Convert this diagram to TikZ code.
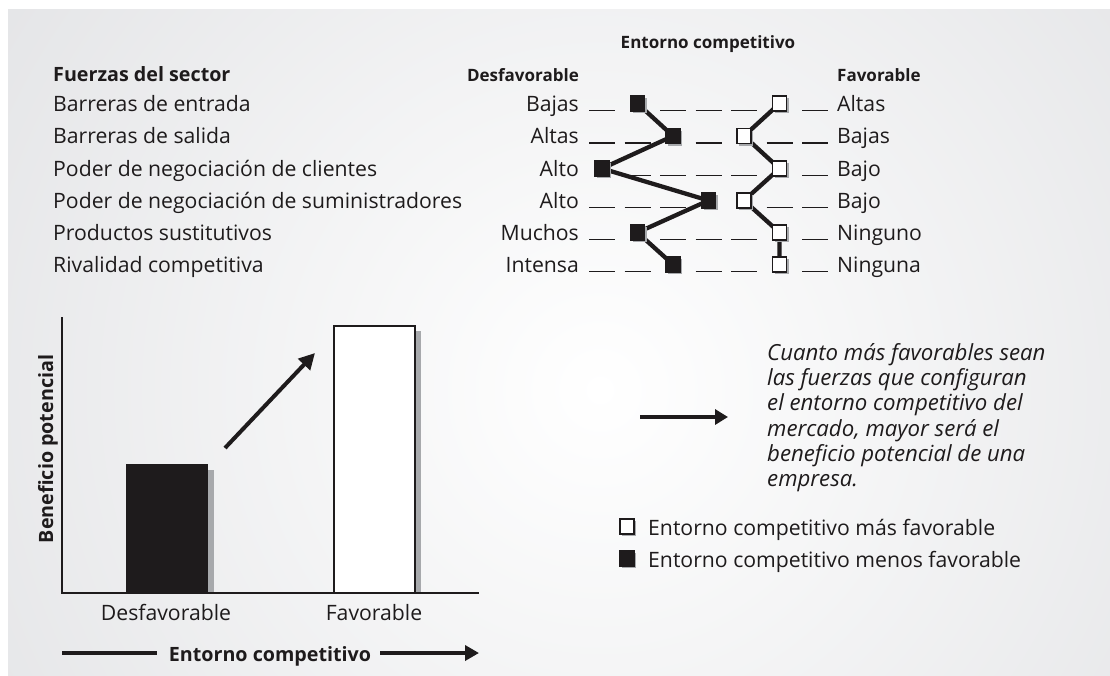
\documentclass[tikz,border=0pt]{standalone}
\usepackage{fontspec}
\setmainfont{Open Sans}
\usetikzlibrary{arrows.meta,shadows}
\definecolor{bggray}{RGB}{218,219,222}
\definecolor{shgray}{RGB}{167,169,172}
\definecolor{ink}{RGB}{30,27,28}
\pgfdeclarelayer{bglayer}
\pgfdeclarelayer{linelayer}
\pgfsetlayers{bglayer,linelayer,main}
\tikzset{
 txt/.style={font=\fontsize{21.2}{25}\selectfont, text=ink, inner sep=0pt},
 btxt/.style={font=\fontsize{19.7}{23}\selectfont\bfseries, text=ink, inner sep=0pt},
 htxt/.style={font=\fontsize{17}{21}\selectfont\bfseries, text=ink, inner sep=0pt},
 itxt/.style={font=\fontsize{22.2}{25}\selectfont\itshape, text=ink, inner sep=0pt, anchor=base west},
 sq/.style={draw=ink, line width=1.2pt, minimum width=14pt, minimum height=15pt, inner sep=0pt,
   drop shadow={shadow xshift=2pt, shadow yshift=-2pt, fill=shgray, opacity=1}},
 sqb/.style={sq, fill=ink},
 sqw/.style={sq, fill=white},
 dashln/.style={draw=ink, line width=1.4pt},
 conn/.style={draw=ink, line width=4.3pt, line join=round},
 axis/.style={draw=ink, line width=1.6pt},
 arr/.style={draw=ink, line width=4pt, -{Triangle[length=16pt,width=16pt]}},
 thickarr/.style={draw=ink, line width=4.3pt},
}
\begin{document}
\begin{tikzpicture}[x=1pt,y=-1pt]
\useasboundingbox (0,0) rectangle (1110,675);
\begin{pgfonlayer}{bglayer}
 \fill[white] (0,0) rectangle (1110,675);
 \begin{scope}
  \clip (8,9) rectangle (1110,675);
  \shade[inner color=white, outer color=bggray] (600,390) circle [radius=1000pt];
 \end{scope}
\end{pgfonlayer}

% headers
\node[htxt, anchor=base] (hdr) at (708,48.5) {Entorno competitivo};
\node[btxt, anchor=base west] (fs) at (53,81) {Fuerzas del sector};
\node[htxt, anchor=base east] (hdes) at (579,81) {Desfavorable};
\node[htxt, anchor=base west] (hfav) at (837,81) {Favorable};

% rows
\foreach \r/\yb/\b/\w/\L/\R/\F in {
 1/111/2/6/Bajas/Altas/Barreras de entrada,
 2/143.5/3/5/Altas/Bajas/Barreras de salida,
 3/176/1/6/Alto/Bajo/Poder de negociación de clientes,
 4/208/4/5/Alto/Bajo/Poder de negociación de suministradores,
 5/240/2/6/Muchos/Ninguno/Productos sustitutivos,
 6/272/3/6/Intensa/Ninguna/Rivalidad competitiva}{
 \node[txt, anchor=base west] (f\r) at (53,\yb) {\F};
 \node[txt, anchor=base east] (l\r) at (579,\yb) {\L};
 \node[txt, anchor=base west] (rr\r) at (837,\yb) {\R};
 \foreach \k in {1,...,7}{
  \ifnum\k=\b\relax\else\ifnum\k=\w\relax\else
   \draw[dashln] ({589+(\k-1)*35.5},\yb-0.5) -- ++(26,0);
  \fi\fi}
 \node[sqb] (b\r) at ({602+(\b-1)*35.5},\yb-7.5) {};
 \node[sqw] (w\r) at ({602+(\w-1)*35.5},\yb-7.5) {};
}
\begin{pgfonlayer}{linelayer}
 \draw[conn] (b1.center) -- (b2.center) -- (b3.center) -- (b4.center) -- (b5.center) -- (b6.center);
 \draw[conn] (w1.center) -- (w2.center) -- (w3.center) -- (w4.center) -- (w5.center) -- (w6.center);
\end{pgfonlayer}

% chart
\fill[shgray] (132,470) rectangle (214,593);
\fill[ink] (126,464) rectangle (208,593);
\fill[shgray] (340,331) rectangle (421,593);
\filldraw[fill=white, draw=ink, line width=1.3pt] (334,326) rectangle (415,593);
\draw[axis] (62,317) -- (62,593) -- (479,593);
\coordinate (da1) at (225,448);
\coordinate (da2) at (315,353);
\draw[arr] (da1) -- (da2);
\node[txt, anchor=base] (cdes) at (166,620) {Desfavorable};
\node[txt, anchor=base] (cfav) at (374,620) {Favorable};
\node[btxt, rotate=90, anchor=base] (ylab) at (53,449) {Beneficio potencial};
\node[btxt, anchor=base] (ecomp) at (270,661) {Entorno competitivo};
\coordinate (bl1) at (62,653);
\coordinate (bl2) at (157,653);
\coordinate (br1) at (380,653);
\coordinate (br2) at (479,653);
\draw[thickarr] (bl1) -- (bl2);
\draw[thickarr, -{Triangle[length=14pt,width=15pt]}] (br1) -- (br2);

% right side
\coordinate (ra1) at (640,417);
\coordinate (ra2) at (728,417);
\draw[arr, line width=3.5pt, -{Triangle[length=13pt,width=15pt]}] (ra1) -- (ra2);
\node[itxt] (t1) at (767,360) {Cuanto más favorables sean};
\node[itxt] (t2) at (767,385.3) {las fuerzas que configuran};
\node[itxt] (t3) at (767,410.6) {el entorno competitivo del};
\node[itxt] (t4) at (767,436) {mercado, mayor será el};
\node[itxt] (t5) at (767,461.2) {beneficio potencial de una};
\node[itxt] (t6) at (767,486.5) {empresa.};

% legend
\node[sqw] (lg1) at (627,526.5) {};
\node[txt, anchor=base west] (lgt1) at (648,535) {Entorno competitivo más favorable};
\node[sqb] (lg2) at (627,558.5) {};
\node[txt, anchor=base west] (lgt2) at (648,567) {Entorno competitivo menos favorable};
\end{tikzpicture}
\end{document}
